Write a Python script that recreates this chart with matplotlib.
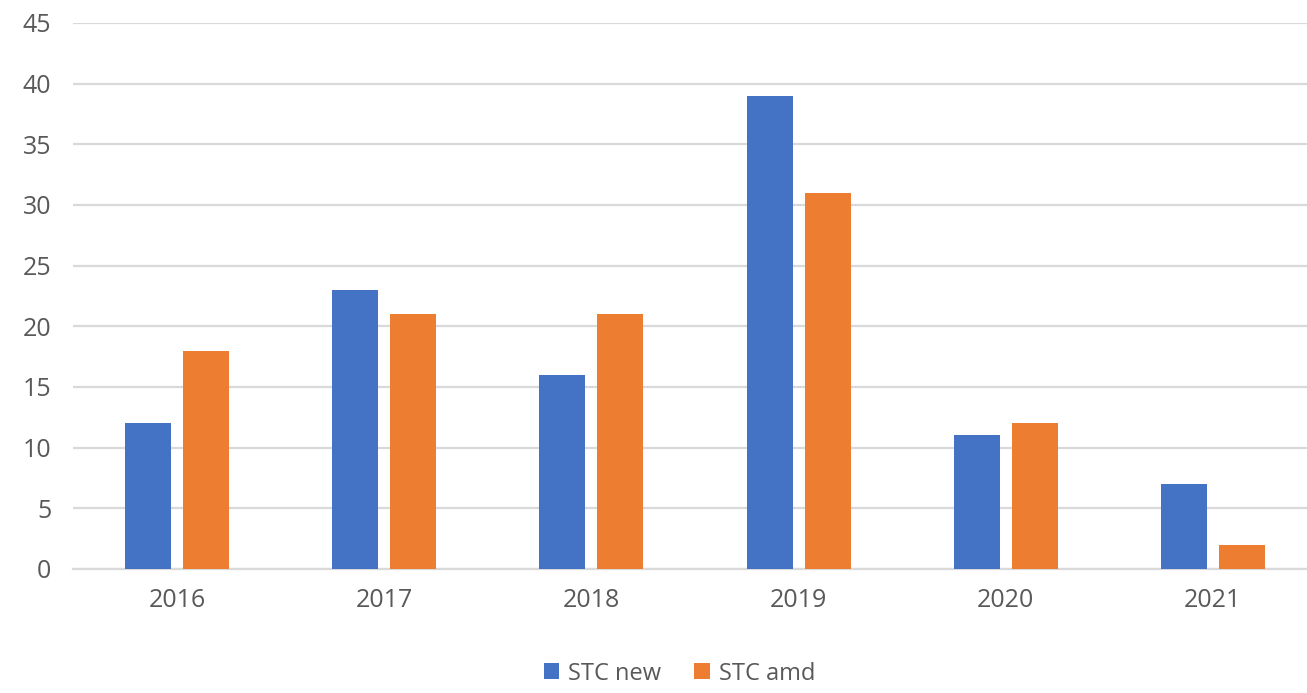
import matplotlib.pyplot as plt
import numpy as np

years = ['2016', '2017', '2018', '2019', '2020', '2021']
stc_new = [12, 23, 16, 39, 11, 7]
stc_amd = [18, 21, 21, 31, 12, 2]

plt.rcParams['font.family'] = ['Open Sans', 'DejaVu Sans']

fig = plt.figure(figsize=(13.07, 6.93), dpi=100)
ax = fig.add_axes([0.0562, 0.179, 0.951, 0.788])

x = np.arange(len(years))
w = 0.222
off = 0.14
ax.bar(x - off, stc_new, w, color='#4472C4', label='STC new', zorder=3)
ax.bar(x + off, stc_amd, w, color='#ED7D31', label='STC amd', zorder=3)

ax.set_xlim(-0.5, len(years) - 0.5)
ax.set_ylim(0, 45)
ax.set_yticks(range(0, 46, 5))
ax.set_xticks(x)
ax.set_xticklabels(years)
ax.yaxis.grid(True, color='#D9D9D9', linewidth=1.6, zorder=0)
ax.tick_params(axis='both', length=0, labelsize=18, labelcolor='#595959')
ax.tick_params(axis='x', pad=14)
ax.tick_params(axis='y', pad=16)
for s in ['top', 'right', 'left']:
    ax.spines[s].set_visible(False)
ax.spines['bottom'].set_color('#D9D9D9')
ax.spines['bottom'].set_linewidth(1.6)

leg = fig.legend(loc='lower center', bbox_to_anchor=(0.52, -0.02), ncol=2,
                 frameon=False, fontsize=17, handlelength=0.65, handleheight=0.65,
                 handletextpad=0.4, columnspacing=1.4)
for t in leg.get_texts():
    t.set_color('#595959')

fig.savefig('out.png', dpi=100)
